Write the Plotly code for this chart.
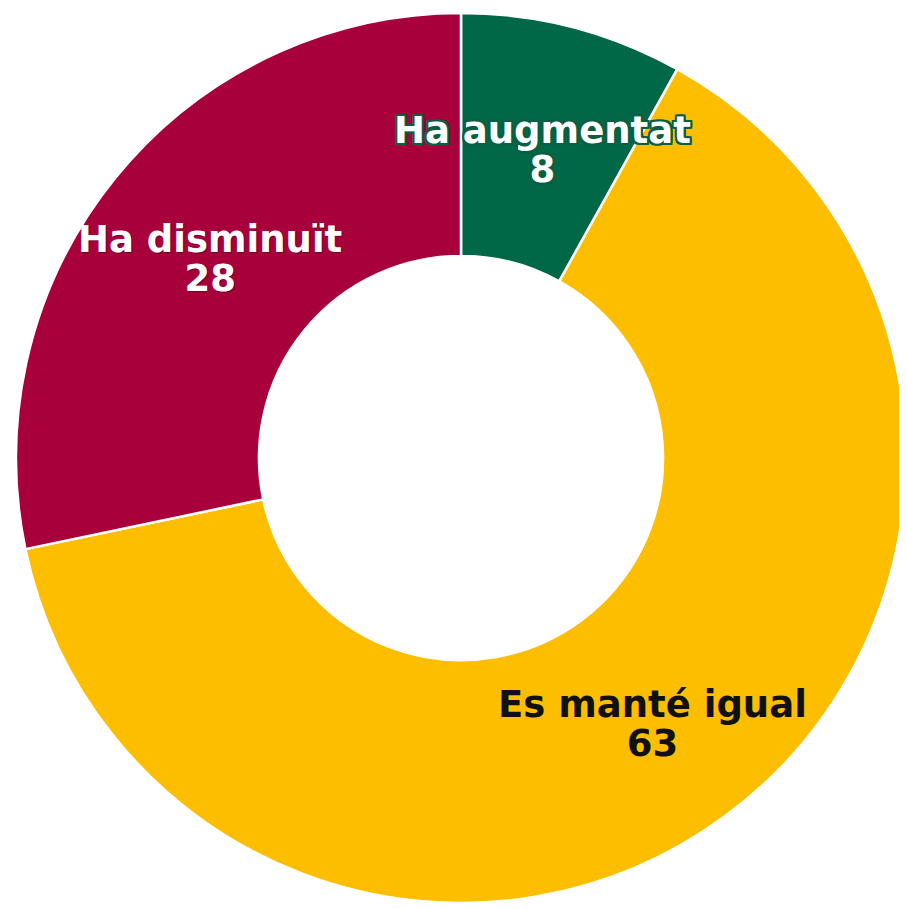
import math
import plotly.graph_objects as go

labels = ["Ha augmentat", "Es manté igual", "Ha disminuït"]
values = [8, 63, 28]
colors = ["#006847", "#FDBE00", "#A8003B"]
text_colors = ["#FFFFFF", "#111111", "#FFFFFF"]
text_shadows = [
    "-2px -2px 0 #0B5E3F, 2px -2px 0 #0B5E3F, -2px 2px 0 #0B5E3F, 2px 2px 0 #0B5E3F, 0 2px 0 #0B5E3F, 0 -2px 0 #0B5E3F, 2px 0 0 #0B5E3F, -2px 0 0 #0B5E3F",
    "none",
    "1px 1px 1px rgba(60,0,20,0.5)",
]

W, H = 907, 909
OFF = 8  # page body margin
HOLE = 0.454
DOM_X = [(16 - OFF) / W, (906 - OFF) / W]
DOM_Y = [(6 + OFF) / H, (H - 13 + OFF) / H]

fig = go.Figure()
fig.add_trace(go.Pie(
    labels=labels,
    values=values,
    hole=HOLE,
    sort=False,
    direction="clockwise",
    rotation=0,
    marker=dict(colors=colors, line=dict(color="white", width=2.5)),
    textinfo="none",
    hoverinfo="label+value",
    domain=dict(x=DOM_X, y=DOM_Y),
    showlegend=False,
))

# label positions derived from the data (mid-angle of each slice, mid-ring radius)
cx = (DOM_X[0] + DOM_X[1]) / 2 * W
cy = (1 - (DOM_Y[0] + DOM_Y[1]) / 2) * H
R = min((DOM_X[1] - DOM_X[0]) * W, (DOM_Y[1] - DOM_Y[0]) * H) / 2
rfrac = (1 + HOLE) / 2
total = sum(values)
cum = 0
annotations = []
for lab, val, tc, sh in zip(labels, values, text_colors, text_shadows):
    mid = (cum + val / 2) / total * 2 * math.pi
    cum += val
    px = cx + R * rfrac * math.sin(mid)
    py = cy - R * rfrac * math.cos(mid)
    annotations.append(dict(
        x=px / W, y=1 - py / H, xref="paper", yref="paper",
        xanchor="center", yanchor="middle", showarrow=False, yshift=-5,
        text=f"<span style='font-size:37px'>{lab}</span><br><span style='font-size:37px'>{val}</span>",
        font=dict(family="DejaVu Sans", size=30, color=tc, weight="bold", shadow=sh),
        align="center",
    ))

fig.update_layout(
    width=W, height=H,
    margin=dict(l=0, r=0, t=0, b=0),
    paper_bgcolor="white",
    plot_bgcolor="white",
    annotations=annotations,
    showlegend=False,
)

fig.write_html("out.html")
